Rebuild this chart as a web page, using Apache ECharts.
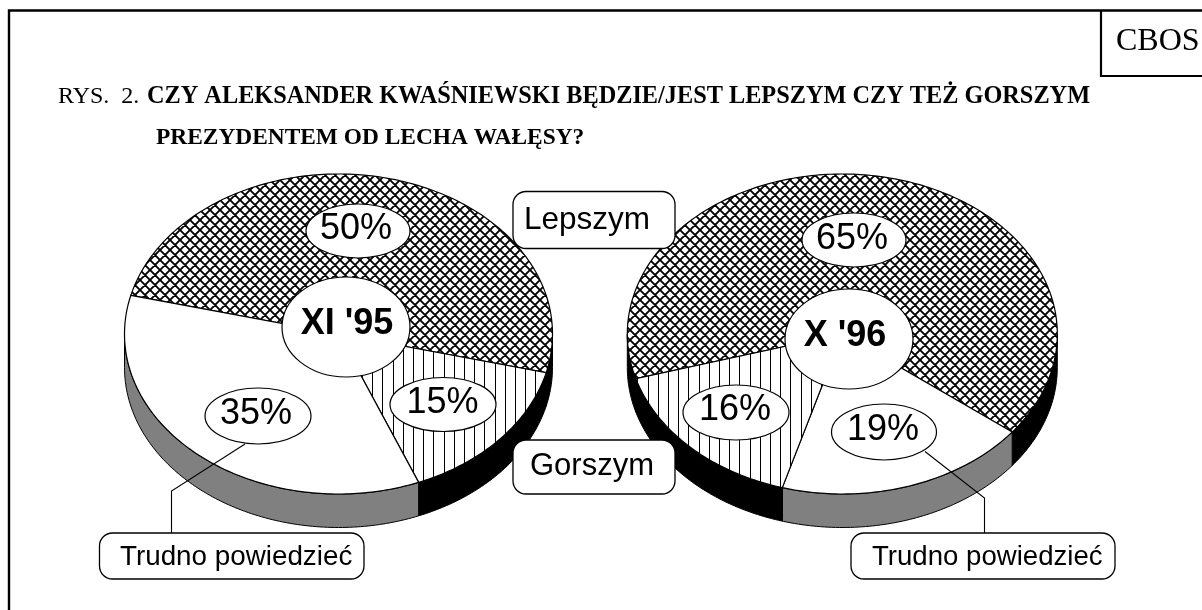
<!DOCTYPE html>
<html>
<head>
<meta charset="utf-8">
<style>
html, body { margin: 0; padding: 0; background: #fff; }
#chartmain { width: 1202px; height: 610px; }
</style>
<script src="https://cdn.jsdelivr.net/npm/echarts@6/dist/echarts.min.js"></script>
</head>
<body>
<div id="chartmain"></div>
<script>
// values, in clockwise drawing order
var cats95 = ['Lepszym', 'Gorszym', 'Trudno powiedzieć'];
var vals95 = [50, 15, 35];
var cats96 = ['Lepszym', 'Trudno powiedzieć', 'Gorszym'];
var vals96 = [65, 19, 16];
var periods = ["XI '95", "X '96"];
var legendNames = ['Lepszym', 'Gorszym', 'Trudno powiedzieć'];

var DEPTH = 33.5;
var SANS = '"Liberation Sans", Arial, sans-serif';
var SERIF = '"Liberation Serif", "Times New Roman", serif';

// hatch fills, both tile seamlessly
function crossHatch() {
	var c = document.createElement('canvas');
	c.width = c.height = 10;
	var g = c.getContext('2d');
	g.fillStyle = '#fff';
	g.fillRect(0, 0, 10, 10);
	g.strokeStyle = '#000';
	g.lineWidth = 1.9;
	g.beginPath();
	for (var i = -10; i <= 10; i += 10) {
		g.moveTo(i, 0);
		g.lineTo(i + 10, 10);
		g.moveTo(i + 10, 0);
		g.lineTo(i, 10);
	}
	g.stroke();
	return { image: c, repeat: 'repeat' };
}
function stripes() {
	var c = document.createElement('canvas');
	c.width = 51;
	c.height = 4;
	var g = c.getContext('2d');
	g.fillStyle = '#fff';
	g.fillRect(0, 0, 51, 4);
	g.fillStyle = '#000';
	[5, 15, 25, 36, 46].forEach(function (x) {
		g.fillRect(x, 0, 1, 4);
	});
	return { image: c, repeat: 'repeat' };
}
var topFill = {
	'Lepszym': crossHatch(),
	'Gorszym': stripes(),
	'Trudno powiedzieć': '#fff'
};
var sideFill = {
	'Lepszym': '#000',
	'Gorszym': '#000',
	'Trudno powiedzieć': '#808080'
};

function arc(a0, a1) {
	var out = [];
	for (var a = a0; a < a1; a += 1) {
		out.push(a);
	}
	out.push(a1);
	return out;
}

// one slice of a tilted disc: cumulative values become angles on an ellipse
function sliceRenderer(cats, vals, cx, cy, rx, ry, startDeg) {
	return function (params, api) {
		var before = 0;
		for (var i = 0; i < params.dataIndex; i++) {
			before += vals[i];
		}
		var a0 = startDeg + before * 3.6;
		var a1 = a0 + api.value(0) * 3.6;
		var cat = cats[params.dataIndex];
		var top = [[cx, cy]];
		arc(a0, a1).forEach(function (d) {
			var r = d * Math.PI / 180;
			top.push([cx + rx * Math.cos(r), cy + ry * Math.sin(r)]);
		});
		var children = [];
		// only the front half of the rim has a wall
		[[0, 180], [360, 540]].forEach(function (half) {
			var from = Math.max(a0, half[0]);
			var to = Math.min(a1, half[1]);
			if (to <= from) {
				return;
			}
			var up = [];
			var down = [];
			arc(from, to).forEach(function (d) {
				var r = d * Math.PI / 180;
				var x = cx + rx * Math.cos(r);
				var y = cy + ry * Math.sin(r);
				up.push([x, y]);
				down.unshift([x, y + DEPTH]);
			});
			children.push({
				type: 'polygon',
				shape: { points: up.concat(down) },
				style: { fill: sideFill[cat], stroke: '#000', lineWidth: 1 }
			});
		});
		children.push({
			type: 'polygon',
			shape: { points: top },
			style: { fill: topFill[cat], stroke: '#000', lineWidth: 1.2 }
		});
		return { type: 'group', children: children };
	};
}

function oval(cx, cy, rx, ry, text, tx, ty, bold) {
	return [{
		type: 'ellipse',
		shape: { cx: cx, cy: cy, rx: rx, ry: ry },
		style: { fill: '#fff', stroke: '#000', lineWidth: 1.2 },
		z: 20
	}, {
		type: 'text',
		x: tx,
		y: ty,
		style: {
			text: text,
			fill: '#000',
			font: (bold ? 'bold ' : '') + '36px ' + SANS,
			textAlign: 'center',
			textVerticalAlign: 'middle'
		},
		z: 21
	}];
}
function box(x0, y0, x1, y1, text, tx, ty, size) {
	return [{
		type: 'rect',
		shape: { x: x0, y: y0, width: x1 - x0, height: y1 - y0, r: 13 },
		style: { fill: '#fff', stroke: '#000', lineWidth: 1.3 },
		z: 22
	}, {
		type: 'text',
		x: tx,
		y: ty,
		style: {
			text: text,
			fill: '#000',
			font: size + 'px ' + SANS,
			textAlign: 'left',
			textVerticalAlign: 'middle'
		},
		z: 23
	}];
}
function rule(points, width) {
	return {
		type: 'polyline',
		shape: { points: points },
		style: { fill: null, stroke: '#000', lineWidth: width },
		z: 15
	};
}

var elements = [].concat(
	rule([[9, 610], [9, 10.5], [1202, 10.5]], 2.4),
	rule([[1101, 10], [1101, 76], [1202, 76]], 2.2),
	rule([[245, 444], [171.5, 491], [171.5, 533]], 1.1),
	rule([[925, 451.5], [984.5, 498], [984.5, 533]], 1.1),
	oval(358, 231, 52, 27, vals95[0] + '%', 356, 229),
	oval(443, 404.5, 53, 27, vals95[1] + '%', 442.5, 403),
	oval(258, 416, 53, 28, vals95[2] + '%', 256, 414),
	oval(346, 327, 64, 50, periods[0], 347, 324, true),
	oval(854, 240, 52, 27, vals96[0] + '%', 852, 239),
	oval(884, 432, 52.5, 28, vals96[1] + '%', 883, 430.5),
	oval(736, 412.5, 53, 27.5, vals96[2] + '%', 735, 410),
	oval(849, 339, 64, 50, periods[1], 845, 336, true),
	box(513, 191.5, 675, 248.5, legendNames[0], 524, 220, 31.5),
	box(513, 440, 675, 494, legendNames[1], 530, 466, 31),
	box(99.5, 533, 364, 579, legendNames[2], 120, 557, 27.8),
	box(851, 533, 1115, 579, legendNames[2], 872, 557, 27.6)
);

function titleLine(text, left, top, size, weight) {
	return {
		text: text,
		left: left,
		top: top,
		padding: 0,
		textStyle: { fontFamily: SERIF, fontWeight: weight, fontSize: size, color: '#000' }
	};
}

var option = {
	animation: false,
	backgroundColor: '#fff',
	title: [
		titleLine('RYS.  2.', 58, 85, 24, 'normal'),
		titleLine('CZY ALEKSANDER KWAŚNIEWSKI BĘDZIE/JEST LEPSZYM CZY TEŻ GORSZYM', 147, 85, 24.3, 'bold'),
		titleLine('PREZYDENTEM OD LECHA WAŁĘSY?', 156, 126, 23.4, 'bold'),
		titleLine('CBOS', 1116, 26, 32, 'normal')
	],
	graphic: { elements: elements },
	series: [{
		type: 'custom',
		name: periods[0],
		coordinateSystem: 'none',
		renderItem: sliceRenderer(cats95, vals95, 338.5, 334, 214, 160, 194),
		data: vals95.map(function (v) { return [v]; }),
		silent: true,
		z: 2
	}, {
		type: 'custom',
		name: periods[1],
		coordinateSystem: 'none',
		renderItem: sliceRenderer(cats96, vals96, 842.3, 334, 215, 160, 163.8),
		data: vals96.map(function (v) { return [v]; }),
		silent: true,
		z: 2
	}]
};
var myChart = echarts.init(document.getElementById('chartmain'));
myChart.setOption(option);
</script>
</body>
</html>
